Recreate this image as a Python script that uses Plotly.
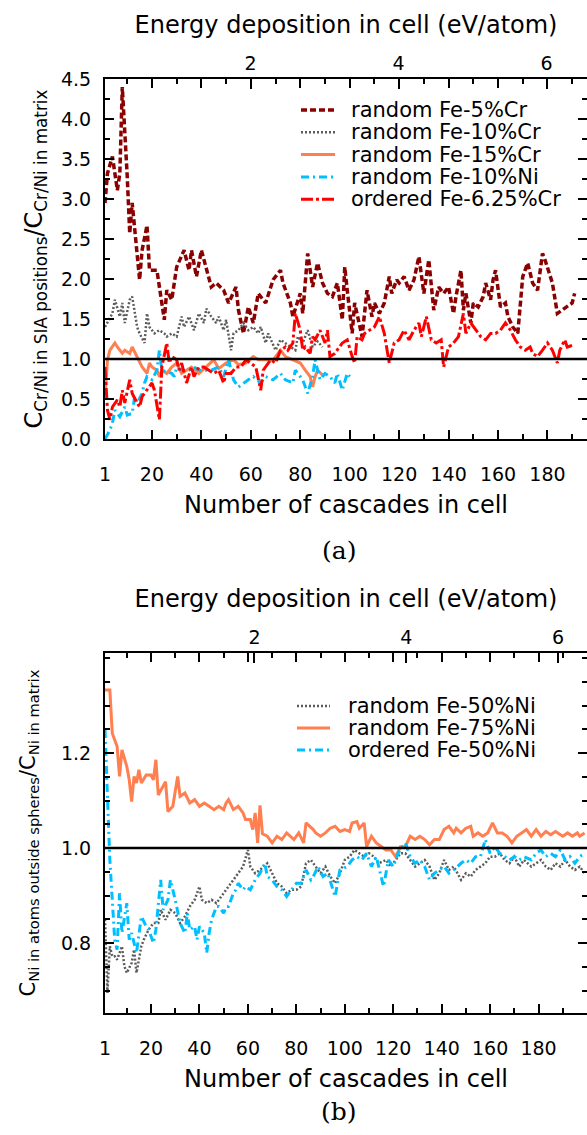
import plotly.graph_objects as go

W, H = 587, 1135
ML = 105  # left margin in px

# ---------------- Panel (a) data ----------------
cr5_x = [1, 2, 4, 6, 7, 8, 10, 11, 12, 14, 15, 16, 18, 19, 22, 25, 26, 28, 30, 33, 35, 36, 38, 40, 42, 44, 46, 49, 51,
         54, 55, 57, 59, 61, 63, 66, 69, 72, 73, 76, 77, 80, 81, 83, 85, 87, 89, 91, 93, 95, 97, 98, 99, 101, 102, 104,
         105, 107, 109, 110, 112, 114, 116, 117, 119, 120, 122, 124, 126, 128, 130, 132, 134, 136, 138, 140, 142, 143,
         145, 146, 147, 149, 150, 152, 154, 155, 157, 158, 159, 161, 163, 164, 166, 168, 170, 172, 174, 176, 178, 179,
         180, 182, 184, 186, 188, 190, 191]
cr5_y = [2.95, 3.32, 3.53, 3.11, 3.32, 4.40, 3.28, 2.57, 2.95, 2.24, 1.99, 2.36, 2.67, 2.11, 2.11, 1.49, 1.86, 1.74,
         2.15, 2.36, 2.11, 2.36, 2.03, 2.36, 2.11, 1.90, 1.95, 1.86, 1.70, 1.90, 1.61, 1.32, 1.65, 1.45, 1.82, 1.70,
         1.99, 2.11, 1.95, 1.70, 1.53, 1.82, 1.57, 2.32, 1.90, 2.20, 1.95, 1.82, 1.78, 1.95, 1.49, 2.15, 1.86, 1.32,
         1.70, 1.45, 1.28, 1.86, 1.53, 1.70, 1.57, 1.70, 2.03, 1.82, 1.99, 1.95, 2.03, 1.86, 1.99, 2.28, 1.82, 2.24,
         1.61, 1.90, 1.82, 1.90, 1.57, 1.78, 2.11, 1.61, 1.82, 1.45, 1.70, 1.65, 1.78, 1.95, 1.74, 1.99, 2.11, 1.65,
         1.70, 1.53, 1.40, 1.32, 2.03, 2.20, 1.95, 1.86, 2.32, 2.24, 2.15, 1.95, 1.57, 1.61, 1.65, 1.70, 1.82]

cr10_x = [1, 3, 4, 5, 7, 8, 9, 11, 12, 14, 15, 17, 18, 19, 21, 23, 25, 26, 28, 30, 32, 33, 35, 37, 39, 41, 42, 44, 46,
          47, 49, 50, 52, 53, 55, 57, 59, 61, 63, 64, 66, 67, 70, 72, 74, 76, 78, 79, 81, 82, 83, 85, 87, 89]
cr10_y = [1.40, 1.51, 1.57, 1.74, 1.53, 1.70, 1.45, 1.74, 1.78, 1.40, 1.32, 1.20, 1.57, 1.40, 1.32, 1.36, 1.32, 1.28,
          1.32, 1.28, 1.53, 1.40, 1.53, 1.36, 1.57, 1.45, 1.63, 1.53, 1.45, 1.53, 1.36, 1.49, 1.11, 1.32, 1.36, 1.45,
          1.36, 1.40, 1.32, 1.40, 1.20, 1.32, 1.11, 1.24, 1.20, 1.15, 1.11, 1.28, 1.20, 1.28, 1.36, 1.15, 1.22, 1.15]

cr15_x = [1, 2, 3, 5, 6, 8, 9, 11, 12, 14, 16, 18, 19, 20, 22, 23, 24, 26, 28, 30, 32, 34, 36, 39, 42, 45, 47, 50, 53,
          55, 58, 61, 63, 66, 69, 72, 74, 77, 80, 82, 84, 85, 86, 87, 89]
cr15_y = [0.53, 0.99, 1.11, 1.20, 1.15, 1.07, 1.11, 1.07, 1.15, 1.03, 0.90, 0.82, 0.95, 0.90, 0.86, 0.78, 0.86, 0.82,
          0.90, 0.95, 0.82, 0.86, 0.90, 0.82, 0.90, 0.99, 0.88, 0.95, 0.99, 0.93, 0.95, 1.03, 0.99, 0.99, 0.99, 1.11,
          1.03, 0.99, 0.95, 0.86, 0.78, 0.65, 0.78, 0.86, 0.80]

ni10_x = [1, 3, 4, 5, 7, 9, 10, 12, 13, 14, 16, 17, 18, 20, 22, 23, 24, 28, 29, 30, 32, 35, 37, 39, 42, 44, 47, 49, 51,
          53, 55, 57, 59, 61, 64, 66, 69, 72, 74, 77, 78, 81, 83, 85, 86, 88, 90, 92, 94, 95, 97, 99, 100]
ni10_y = [0.00, 0.11, 0.20, 0.36, 0.28, 0.40, 0.30, 0.32, 0.53, 0.45, 0.57, 0.70, 0.78, 0.74, 0.86, 1.11, 0.86, 0.82,
          0.78, 0.90, 0.86, 0.86, 0.90, 0.86, 0.86, 0.86, 0.90, 0.78, 0.99, 0.74, 0.65, 0.70, 0.74, 0.78, 0.70, 0.78,
          0.74, 0.82, 0.74, 0.70, 0.86, 0.74, 0.57, 0.78, 0.99, 0.74, 0.82, 0.78, 0.70, 0.82, 0.61, 0.82, 0.78]

ord625_x = [1, 2, 3, 4, 6, 7, 8, 9, 11, 12, 14, 15, 16, 18, 20, 21, 23, 24, 26, 27, 28, 30, 31, 32, 34, 36, 37, 39, 41,
            43, 45, 47, 49, 50, 52, 54, 56, 58, 60, 62, 64, 65, 68, 70, 72, 74, 75, 77, 78, 80, 81, 82, 84, 85, 86, 88,
            90, 91, 92, 94, 97, 99, 101, 102, 103, 105, 106, 108, 110, 112, 114, 116, 118, 120, 122, 124, 126, 128,
            129, 131, 133, 135, 137, 138, 140, 142, 144, 146, 147, 149, 151, 153, 155, 157, 159, 161, 163, 165, 167,
            169, 171, 173, 174, 176, 178, 180, 182, 184, 185, 187, 188, 190]
ord625_y = [0.90, 0.36, 0.24, 0.40, 0.49, 0.40, 0.61, 0.45, 0.74, 0.57, 0.45, 0.40, 0.53, 0.61, 0.70, 0.61, 0.24, 0.90,
            1.20, 0.95, 1.03, 0.99, 0.86, 0.95, 0.70, 0.90, 0.78, 0.90, 0.90, 0.86, 0.82, 0.86, 0.70, 0.82, 0.82, 0.90,
            0.90, 0.99, 0.95, 0.90, 0.61, 0.86, 0.99, 0.95, 1.11, 1.15, 1.11, 1.20, 1.57, 1.36, 1.11, 1.15, 1.07, 1.28,
            1.24, 1.36, 1.20, 1.36, 1.03, 1.07, 1.20, 1.24, 1.03, 0.95, 1.28, 1.24, 1.32, 1.36, 1.40, 1.53, 1.32, 0.95,
            1.20, 1.24, 1.36, 1.24, 1.36, 1.45, 1.28, 1.53, 1.24, 1.20, 1.24, 0.90, 1.15, 1.20, 1.28, 1.57, 1.32, 1.45,
            1.36, 1.28, 1.24, 1.32, 1.32, 1.36, 1.45, 1.36, 1.24, 1.15, 1.11, 1.15, 1.07, 1.03, 1.11, 1.20, 1.11, 0.95,
            1.11, 1.24, 1.15, 1.17]

# ---------------- Panel (b) data ----------------
ni50r_x = [1, 2, 3, 4, 5, 6, 8, 9, 10, 12, 13, 14, 16, 17, 19, 21, 23, 24, 26, 28, 30, 32, 34, 36, 38, 40, 41, 43, 45,
           47, 50, 51, 54, 56, 58, 60, 61, 63, 65, 68, 70, 72, 74, 76, 78, 80, 82, 84, 86, 88, 90, 92, 94, 96, 98, 100,
           102, 104, 106, 108, 110, 112, 114, 117, 119, 121, 123, 125, 127, 129, 131, 133, 135, 137, 139, 141, 143,
           145, 148, 150, 152, 154, 156, 158, 160, 162, 164, 166, 168, 170, 172, 174, 177, 179, 181, 183, 185, 187,
           189, 191, 193, 195, 197, 199]
ni50r_y = [0.850, 0.695, 0.793, 0.772, 0.772, 0.765, 0.793, 0.751, 0.737, 0.758, 0.786, 0.737, 0.793, 0.807, 0.828,
           0.842, 0.842, 0.870, 0.849, 0.870, 0.863, 0.842, 0.856, 0.877, 0.891, 0.919, 0.891, 0.884, 0.891, 0.884,
           0.905, 0.912, 0.933, 0.947, 0.961, 0.996, 0.961, 0.947, 0.954, 0.968, 0.947, 0.926, 0.919, 0.905, 0.912,
           0.912, 0.919, 0.968, 0.975, 0.961, 0.947, 0.961, 0.940, 0.926, 0.947, 0.975, 0.982, 0.996, 0.989, 0.982,
           0.989, 0.982, 0.968, 0.975, 0.961, 0.975, 0.989, 0.989, 0.975, 0.961, 0.968, 0.975, 0.961, 0.933, 0.947,
           0.975, 0.954, 0.961, 0.933, 0.947, 0.940, 0.954, 0.961, 0.968, 0.982, 0.982, 0.989, 0.975, 0.968, 0.982,
           0.961, 0.975, 0.961, 0.968, 0.975, 0.961, 0.954, 0.968, 0.961, 0.975, 0.961, 0.954, 0.961, 0.947]

ni75_x = [1, 3, 4, 6, 7, 8, 10, 11, 12, 13, 14, 15, 16, 18, 20, 21, 22, 23, 26, 27, 29, 31, 32, 34, 36, 38, 40, 42, 44,
          46, 48, 50, 51, 52, 54, 56, 58, 59, 61, 62, 63, 64, 65, 66, 68, 70, 72, 74, 76, 79, 81, 83, 84, 87, 88, 90,
          92, 94, 96, 98, 100, 102, 103, 105, 106, 108, 109, 111, 113, 115, 117, 119, 121, 123, 125, 127, 129, 131,
          133, 135, 137, 139, 141, 143, 145, 146, 148, 150, 152, 153, 155, 157, 159, 161, 163, 165, 167, 169, 171,
          173, 175, 177, 179, 181, 183, 185, 187, 190, 192, 194, 196, 197, 199]
ni75_y = [1.333, 1.333, 1.242, 1.214, 1.151, 1.207, 1.172, 1.144, 1.098, 1.151, 1.137, 1.165, 1.137, 1.154, 1.154,
          1.144, 1.186, 1.112, 1.140, 1.077, 1.088, 1.151, 1.109, 1.116, 1.095, 1.102, 1.088, 1.095, 1.088, 1.081,
          1.088, 1.081, 1.095, 1.102, 1.081, 1.088, 1.074, 1.060, 1.060, 1.039, 1.074, 1.011, 1.090, 1.030, 1.025,
          1.011, 1.025, 1.018, 1.032, 1.018, 1.032, 1.011, 1.053, 1.039, 1.032, 1.025, 1.032, 1.042, 1.046, 1.035,
          1.039, 1.035, 1.053, 1.056, 1.042, 1.053, 1.003, 1.025, 1.011, 1.003, 0.996, 0.996, 0.982, 1.003, 1.003,
          1.025, 1.018, 1.025, 1.018, 1.007, 1.018, 1.018, 1.039, 1.046, 1.032, 1.042, 1.032, 1.042, 1.046, 1.025,
          1.032, 1.025, 1.032, 1.053, 1.032, 1.032, 1.025, 1.011, 1.025, 1.032, 1.039, 1.025, 1.039, 1.025, 1.035,
          1.028, 1.035, 1.025, 1.032, 1.025, 1.032, 1.025, 1.032]

ni50o_x = [1, 2, 3, 4, 5, 6, 7, 8, 10, 11, 12, 14, 15, 16, 18, 19, 21, 22, 24, 25, 27, 28, 30, 31, 32, 34, 35, 36, 38,
           39, 40, 42, 43, 44, 45, 47, 48, 50, 51, 52, 54, 55, 56, 58, 59, 61, 63, 65, 67, 68, 70, 72, 74, 76, 78, 80,
           82, 84, 86, 87, 89, 91, 93, 96, 98, 101, 103, 105, 107, 109, 111, 113, 116, 118, 120, 122, 125, 127, 129,
           131, 133, 135, 137, 139, 141, 143, 145, 148, 150, 152, 154, 156, 158, 160, 162, 164, 166, 168, 170, 172,
           174, 177, 179, 181, 183, 185, 187, 189, 191, 193, 195, 197, 199]
ni50o_y = [1.249, 1.100, 0.975, 0.891, 0.807, 0.786, 0.905, 0.821, 0.884, 0.807, 0.821, 0.779, 0.821, 0.856, 0.835,
           0.828, 0.800, 0.828, 0.933, 0.870, 0.891, 0.933, 0.891, 0.863, 0.842, 0.821, 0.863, 0.828, 0.835, 0.807,
           0.835, 0.821, 0.779, 0.821, 0.849, 0.877, 0.877, 0.863, 0.877, 0.877, 0.905, 0.912, 0.926, 0.912, 0.919,
           0.912, 0.933, 0.947, 0.968, 0.940, 0.933, 0.919, 0.912, 0.898, 0.912, 0.926, 0.926, 0.954, 0.933, 0.940,
           0.961, 0.940, 0.947, 0.898, 0.954, 0.961, 0.975, 0.982, 0.975, 0.989, 0.961, 0.982, 0.919, 0.975, 0.961,
           0.989, 1.011, 0.982, 0.968, 0.975, 0.961, 0.933, 0.947, 0.954, 0.961, 0.947, 0.954, 0.968, 0.975, 0.968,
           0.982, 0.982, 1.018, 0.989, 1.003, 0.989, 0.982, 0.975, 0.982, 0.975, 0.982, 0.975, 0.989, 0.996, 0.982,
           0.989, 0.982, 0.996, 0.975, 0.982, 0.968, 0.982, 0.989]

# axis settings (values)
X_TICKS = [1, 20, 40, 60, 80, 100, 120, 140, 160, 180]
X_MINOR = [10, 30, 50, 70, 90, 110, 130, 150, 170, 190]
XMAX_A, XMAX_B = 196, 200
E_PER_CASCADE_A = 0.0334   # eV/atom per cascade (panel a)
E_PER_CASCADE_B = 0.0319   # eV/atom per cascade (panel b)
E_TICKS = [2, 4, 6]
YA_RANGE = [0, 4.5]
YA_TICKS = [0, 0.5, 1.0, 1.5, 2.0, 2.5, 3.0, 3.5, 4.0, 4.5]
YA_MINOR = [0.25, 0.75, 1.25, 1.75, 2.25, 2.75, 3.25, 3.75, 4.25]
YB_RANGE = [0.6526, 1.411]
YB_TICKS = [0.8, 1.0, 1.2]
YB_MINOR = [0.70, 0.75, 0.85, 0.90, 0.95, 1.05, 1.10, 1.15, 1.25, 1.30, 1.35, 1.40]
REF_LEVEL = 1.0

GRAY = "#5c5c5c"
CORAL = "#ff7f50"
BLUE = "#00bfff"
RED = "#ff0000"
DARKRED = "#8b0000"

series_a = [
    ("random Fe-5%Cr", cr5_x, cr5_y, DARKRED, "6px,3px", 3.5),
    ("random Fe-10%Cr", cr10_x, cr10_y, GRAY, "2px,2px", 2.5),
    ("random Fe-15%Cr", cr15_x, cr15_y, CORAL, "solid", 3),
    ("random Fe-10%Ni", ni10_x, ni10_y, BLUE, "8px,4px,2px,4px", 3),
    ("ordered Fe-6.25%Cr", ord625_x, ord625_y, RED, "12px,3px,3px,3px", 3),
]
series_b = [
    ("random Fe-50%Ni", ni50r_x, ni50r_y, GRAY, "2px,2px", 2.5),
    ("random Fe-75%Ni", ni75_x, ni75_y, CORAL, "solid", 3),
    ("ordered Fe-50%Ni", ni50o_x, ni50o_y, BLUE, "8px,4px,2px,4px", 3),
]

FONT = "DejaVu Sans"
TICKFONT = dict(family=FONT, size=19, color="black")
TITLEFONT = dict(family=FONT, size=24, color="black")


def ydom(top_px, bot_px):
    return [1 - bot_px / H, 1 - top_px / H]


def px_x(px):
    return (px - ML) / (W - ML)


def px_y(py):
    return 1 - py / H


fig = go.Figure()
for name, xs, ys, col, dash, wd in series_a:
    fig.add_trace(go.Scatter(x=xs, y=ys, mode="lines", name=name, showlegend=False,
                             line=dict(color=col, width=wd, dash=dash), xaxis="x", yaxis="y"))
for name, xs, ys, col, dash, wd in series_b:
    fig.add_trace(go.Scatter(x=xs, y=ys, mode="lines", name=name, showlegend=False,
                             line=dict(color=col, width=wd, dash=dash), xaxis="x3", yaxis="y2"))
# invisible traces to register the energy axes
fig.add_trace(go.Scatter(x=[None], y=[None], xaxis="x2", yaxis="y", showlegend=False, hoverinfo="skip"))
fig.add_trace(go.Scatter(x=[None], y=[None], xaxis="x4", yaxis="y2", showlegend=False, hoverinfo="skip"))

common_ax = dict(showgrid=False, zeroline=False, showline=True, linecolor="black", linewidth=2,
                 ticks="inside", tickwidth=2, tickcolor="black", tickfont=TICKFONT, automargin=False)


def xaxis_bottom(anchor, xmax):
    return dict(common_ax, anchor=anchor, domain=[0, 1], range=[1, xmax], tickmode="array",
                tickvals=X_TICKS, ticktext=[str(v) for v in X_TICKS], ticklen=9, mirror="ticks",
                ticklabelstandoff=17,
                minor=dict(tickmode="array", tickvals=X_MINOR, ticklen=5, tickwidth=2, ticks="inside",
                           tickcolor="black"),
                title=dict(text="Number of cascades in cell", font=TITLEFONT, standoff=12))


def xaxis_top(over, anchor, xmax, k):
    return dict(showgrid=False, zeroline=False, showline=False, overlaying=over, side="top", anchor=anchor,
                range=[1 * k, xmax * k], tickmode="array", tickvals=E_TICKS, ticktext=[str(v) for v in E_TICKS],
                ticks="inside", ticklen=10, tickwidth=2, tickcolor="black", tickfont=TICKFONT, automargin=False,
                ticklabelstandoff=4,
                title=dict(text="Energy deposition in cell (eV/atom)", font=TITLEFONT, standoff=11))


fig.update_layout(
    width=W, height=H, margin=dict(l=ML, r=0, t=0, b=0),
    paper_bgcolor="white", plot_bgcolor="white", font=dict(family=FONT, color="black"),
    xaxis=xaxis_bottom("y", XMAX_A),
    xaxis2=xaxis_top("x", "y", XMAX_A, E_PER_CASCADE_A),
    xaxis3=xaxis_bottom("y2", XMAX_B),
    xaxis4=xaxis_top("x3", "y2", XMAX_B, E_PER_CASCADE_B),
    yaxis=dict(common_ax, anchor="x", domain=ydom(79, 439), range=YA_RANGE, tickmode="array",
               tickvals=YA_TICKS, ticktext=[f"{v:.1f}" for v in YA_TICKS], ticklen=9, mirror="ticks",
               ticklabelstandoff=8,
               minor=dict(tickmode="array", tickvals=YA_MINOR, ticklen=5, tickwidth=2, ticks="inside",
                          tickcolor="black"),
               title=dict(text="C<sub>Cr/Ni in SIA positions</sub>/C<sub>Cr/Ni in matrix</sub>",
                          font=dict(family=FONT, size=24, color="black"), standoff=12)),
    yaxis2=dict(common_ax, anchor="x3", domain=ydom(653, 1013), range=YB_RANGE, tickmode="array",
                tickvals=YB_TICKS, ticktext=[f"{v:.1f}" for v in YB_TICKS], ticklen=9, mirror="ticks",
                ticklabelstandoff=8,
                minor=dict(tickmode="array", tickvals=YB_MINOR, ticklen=5, tickwidth=2, ticks="inside",
                           tickcolor="black"),
                title=dict(text="C<sub>Ni in atoms outside spheres</sub>/C<sub>Ni in matrix</sub>",
                           font=dict(family=FONT, size=21, color="black"), standoff=20)),
)

# reference line at 1.0
for xr, yr in (("x domain", "y"), ("x3 domain", "y2")):
    fig.add_shape(type="line", xref=xr, yref=yr, x0=0, x1=1, y0=REF_LEVEL, y1=REF_LEVEL,
                  line=dict(color="black", width=2.5), layer="above")


# manual legends (tight row spacing like the original)
def add_legend(series, row0_px, dy_px, s0_px, s1_px, t_px):
    for i, (name, xs, ys, col, dash, wd) in enumerate(series):
        yy = px_y(row0_px + i * dy_px)
        fig.add_shape(type="line", xref="paper", yref="paper", x0=px_x(s0_px), x1=px_x(s1_px), y0=yy, y1=yy,
                      line=dict(color=col, width=wd, dash=dash))
        fig.add_annotation(xref="paper", yref="paper", x=px_x(t_px), y=yy, text=name, showarrow=False,
                           xanchor="left", yanchor="middle", font=dict(family=FONT, size=21, color="black"))


add_legend(series_a, 110, 22.3, 301, 335, 349)
add_legend(series_b, 706, 22, 297, 330, 346)

# panel labels
fig.add_annotation(xref="paper", yref="paper", x=px_x(339), y=px_y(550), text="(a)", showarrow=False,
                   xanchor="center", yanchor="middle", font=dict(family="DejaVu Serif", size=25, color="black"))
fig.add_annotation(xref="paper", yref="paper", x=px_x(339), y=px_y(1111), text="(b)", showarrow=False,
                   xanchor="center", yanchor="middle", font=dict(family="DejaVu Serif", size=25, color="black"))

fig.write_html("out.html")
